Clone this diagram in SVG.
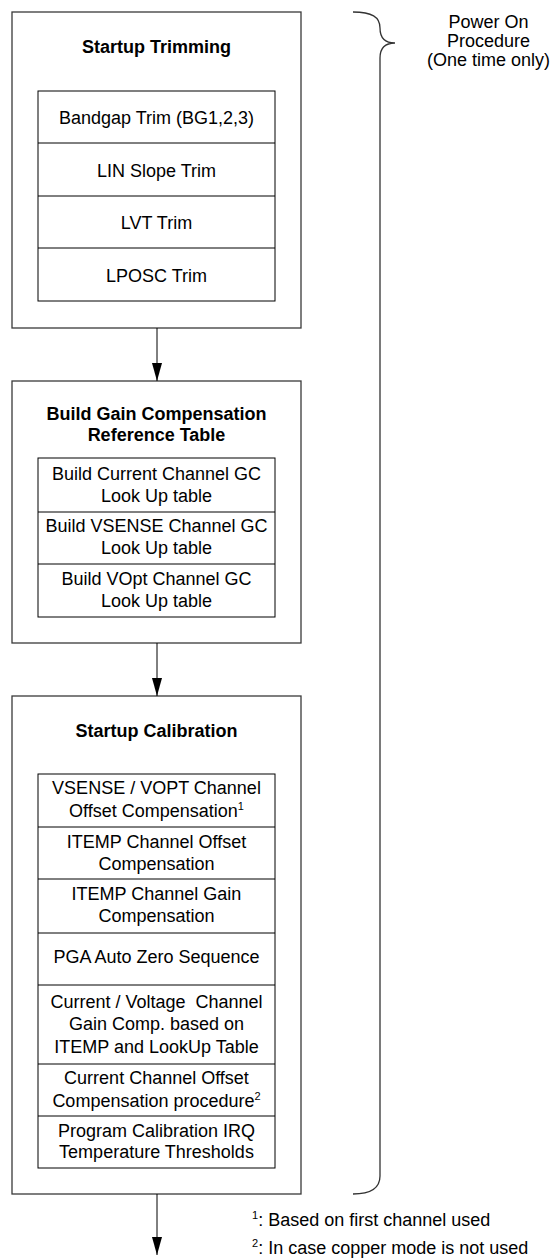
<svg xmlns="http://www.w3.org/2000/svg" width="552" height="1258" viewBox="0 0 552 1258">
<style>
text{font-family:"Liberation Sans",Arial,sans-serif;font-size:18px;fill:#000;text-anchor:middle}
.t{font-weight:bold}
.fn{text-anchor:start}
.outer{fill:#fff;stroke:#3a3a3a;stroke-width:1.3}
.inner{fill:#fff;stroke:#000;stroke-width:1}
.sep{stroke:#000;stroke-width:1}
.conn{stroke:#000;stroke-width:1;fill:none}
.brace{stroke:#333;stroke-width:1.3;fill:none}
</style>
<defs>
<marker id="arr" markerWidth="18" markerHeight="10" refX="18" refY="5" orient="auto" markerUnits="userSpaceOnUse" viewBox="0 0 18 10">
<path d="M0,0 L18,5 L0,10 Z" fill="#000"/>
</marker>
</defs>

<g id="startup-trimming">
<rect class="outer" x="12" y="12" width="289" height="316"/>
<text class="t" x="156.5" y="53">Startup Trimming</text>
<rect class="inner" x="38" y="91" width="237" height="210"/>
<line class="sep" x1="38" y1="143" x2="275" y2="143"/>
<line class="sep" x1="38" y1="196" x2="275" y2="196"/>
<line class="sep" x1="38" y1="248" x2="275" y2="248"/>
<text x="156.5" y="124">Bandgap Trim (BG1,2,3)</text>
<text x="156.5" y="176.5">LIN Slope Trim</text>
<text x="156.5" y="228.5">LVT Trim</text>
<text x="156.5" y="281.5">LPOSC Trim</text>
</g>

<g id="build-gain-compensation">
<rect class="outer" x="12" y="381" width="289" height="262"/>
<text class="t" x="156.5" y="420">Build Gain Compensation</text>
<text class="t" x="156.5" y="441">Reference Table</text>
<rect class="inner" x="38" y="458" width="237" height="159"/>
<line class="sep" x1="38" y1="512" x2="275" y2="512"/>
<line class="sep" x1="38" y1="564" x2="275" y2="564"/>
<text x="156.5" y="480">Build Current Channel GC</text>
<text x="156.5" y="502">Look Up table</text>
<text x="156.5" y="532">Build VSENSE Channel GC</text>
<text x="156.5" y="554">Look Up table</text>
<text x="156.5" y="585">Build VOpt Channel GC</text>
<text x="156.5" y="607">Look Up table</text>
</g>

<g id="startup-calibration">
<rect class="outer" x="12" y="696" width="289" height="498"/>
<text class="t" x="156.5" y="737">Startup Calibration</text>
<rect class="inner" x="38" y="774" width="237" height="394"/>
<line class="sep" x1="38" y1="827" x2="275" y2="827"/>
<line class="sep" x1="38" y1="879" x2="275" y2="879"/>
<line class="sep" x1="38" y1="933" x2="275" y2="933"/>
<line class="sep" x1="38" y1="985" x2="275" y2="985"/>
<line class="sep" x1="38" y1="1064" x2="275" y2="1064"/>
<line class="sep" x1="38" y1="1116" x2="275" y2="1116"/>
<text x="156.5" y="794">VSENSE / VOPT Channel</text>
<text x="156.5" y="817">Offset Compensation<tspan font-size="11" dy="-7">1</tspan></text>
<text x="156.5" y="848">ITEMP Channel Offset</text>
<text x="156.5" y="870">Compensation</text>
<text x="156.5" y="900">ITEMP Channel Gain</text>
<text x="156.5" y="922">Compensation</text>
<text x="156.5" y="963">PGA Auto Zero Sequence</text>
<text x="156.5" y="1008" style="white-space:pre">Current / Voltage  Channel</text>
<text x="156.5" y="1030">Gain Comp. based on</text>
<text x="156.5" y="1052.5">ITEMP and LookUp Table</text>
<text x="156.5" y="1084">Current Channel Offset</text>
<text x="156.5" y="1106.5">Compensation procedure<tspan font-size="11" dy="-7">2</tspan></text>
<text x="156.5" y="1136.5">Program Calibration IRQ</text>
<text x="156.5" y="1158">Temperature Thresholds</text>
</g>

<g id="power-on-brace">
<path class="brace" d="M353,12 C372,12 380,17 380,28 C380,38 385,43 395,43 C385,43 380,48 380,58 L380,1176 C380,1188 372,1194 353,1194"/>
<text x="488.5" y="28">Power On</text>
<text x="488.5" y="47">Procedure</text>
<text x="488.5" y="66">(One time only)</text>
</g>

<g id="footnotes">
<text class="fn" x="252" y="1226"><tspan font-size="11" dy="-7">1</tspan><tspan dy="7">: Based on first channel used</tspan></text>
<text class="fn" x="252" y="1254"><tspan font-size="11" dy="-7">2</tspan><tspan dy="7">: In case copper mode is not used</tspan></text>
</g>

<g id="connectors">
<line class="conn" x1="157" y1="328" x2="157" y2="381" marker-end="url(#arr)"/>
<line class="conn" x1="157" y1="643" x2="157" y2="696" marker-end="url(#arr)"/>
<line class="conn" x1="157" y1="1194" x2="157" y2="1255" marker-end="url(#arr)"/>
</g>
</svg>
